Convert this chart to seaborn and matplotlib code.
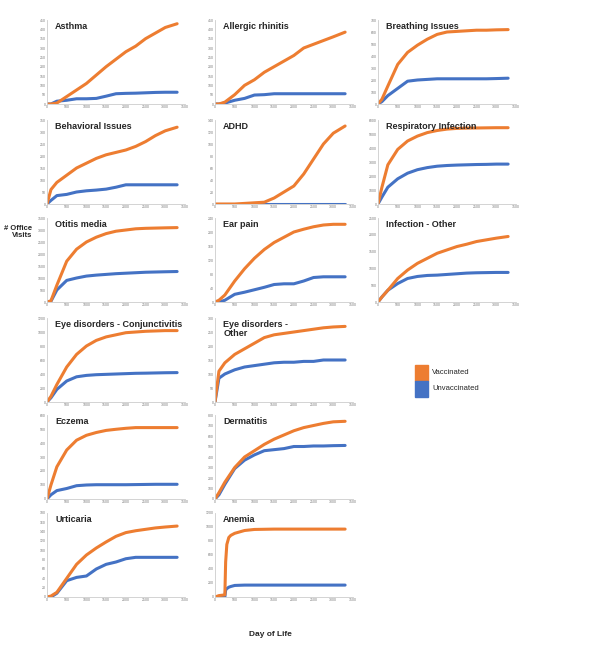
import matplotlib
matplotlib.use("Agg")
import matplotlib.pyplot as plt
import seaborn as sns

sns.set_style("white")
plt.rcParams['font.family'] = ['Liberation Sans', 'DejaVu Sans']

ORANGE = '#ED7D31'
BLUE = '#4472C4'

days = [0, 100, 250, 500, 750, 1000, 1250, 1500, 1750, 2000, 2250, 2500, 2750, 3000, 3300]
anemia_days = [0, 100, 250, 270, 300, 350, 400, 500, 750, 1000, 1500, 2000, 2500, 3000, 3300]

asthma_vax = [0, 0, 5, 40, 75, 110, 155, 200, 240, 280, 310, 350, 380, 410, 430]
asthma_unvax = [0, 0, 15, 20, 28, 28, 30, 42, 55, 57, 58, 60, 62, 63, 63]
rhinitis_vax = [0, 0, 10, 50, 100, 130, 170, 200, 230, 260, 300, 320, 340, 360, 385]
rhinitis_unvax = [0, 0, 5, 20, 30, 48, 50, 55, 55, 55, 55, 55, 55, 55, 55]
breathing_vax = [0, 40, 150, 330, 430, 490, 540, 580, 600, 605, 610, 615, 615, 618, 620]
breathing_unvax = [0, 20, 70, 130, 190, 200, 205, 210, 210, 210, 210, 210, 210, 212, 215]
behavior_vax = [0, 60, 90, 120, 150, 170, 190, 205, 215, 225, 240, 260, 285, 305, 320]
behavior_unvax = [0, 15, 35, 40, 50, 55, 58, 62, 70, 80, 80, 80, 80, 80, 80]
adhd_vax = [0, 0, 0, 0, 1, 2, 3, 10, 20, 30, 50, 75, 100, 118, 130]
adhd_unvax = [0] * 15
resp_vax = [0, 1200, 2800, 3900, 4500, 4850, 5100, 5250, 5350, 5400, 5420, 5430, 5440, 5450, 5450]
resp_unvax = [0, 500, 1200, 1800, 2200, 2450, 2600, 2700, 2750, 2780, 2800, 2820, 2830, 2850, 2850]
otitis_vax = [0, 50, 700, 1700, 2200, 2500, 2700, 2850, 2950, 3000, 3050, 3070, 3080, 3090, 3100]
otitis_unvax = [0, 30, 500, 900, 1000, 1080, 1120, 1150, 1180, 1200, 1220, 1240, 1250, 1260, 1270]
ear_vax = [0, 5, 20, 60, 95, 125, 150, 170, 185, 200, 208, 215, 220, 222, 222]
ear_unvax = [0, 0, 5, 22, 28, 35, 42, 50, 52, 52, 60, 70, 72, 72, 72]
infect_vax = [0, 150, 350, 700, 950, 1150, 1300, 1450, 1550, 1650, 1720, 1800, 1850, 1900, 1950]
infect_unvax = [0, 150, 350, 550, 700, 760, 790, 800, 820, 840, 860, 870, 875, 880, 880]
conj_vax = [0, 80, 250, 500, 680, 800, 880, 930, 960, 990, 1000, 1010, 1015, 1020, 1020]
conj_unvax = [0, 60, 180, 300, 360, 380, 390, 395, 400, 405, 410, 412, 415, 418, 420]
eyeother_vax = [0, 110, 140, 170, 190, 210, 230, 240, 245, 250, 255, 260, 265, 268, 270]
eyeother_unvax = [0, 85, 100, 115, 125, 130, 135, 140, 142, 142, 145, 145, 150, 150, 150]
eczema_vax = [0, 100, 230, 350, 420, 455, 475, 490, 498, 505, 510, 510, 510, 510, 510]
eczema_unvax = [0, 30, 60, 75, 95, 100, 102, 102, 102, 102, 103, 104, 105, 105, 105]
derm_vax = [0, 60, 160, 300, 400, 460, 520, 570, 610, 650, 680, 700, 720, 735, 740]
derm_unvax = [0, 40, 140, 290, 370, 420, 460, 470, 480, 500, 500, 505, 505, 508, 510]
urt_vax = [0, 2, 10, 40, 70, 90, 105, 118, 130, 138, 142, 145, 148, 150, 152]
urt_unvax = [0, 0, 8, 35, 42, 45, 60, 70, 75, 82, 85, 85, 85, 85, 85]
anemia_vax = [0, 20, 30, 500, 750, 850, 880, 910, 950, 965, 970, 970, 970, 970, 970]
anemia_unvax = [0, 0, 0, 100, 120, 140, 150, 165, 170, 170, 170, 170, 170, 170, 170]

# title, ymax, ystep, vaccinated, unvaccinated, x values, row, col
panels = [
    ("Asthma", 450, 50, asthma_vax, asthma_unvax, days, 0, 0),
    ("Allergic rhinitis", 450, 50, rhinitis_vax, rhinitis_unvax, days, 0, 1),
    ("Breathing Issues", 700, 100, breathing_vax, breathing_unvax, days, 0, 2),
    ("Behavioral Issues", 350, 50, behavior_vax, behavior_unvax, days, 1, 0),
    ("ADHD", 140, 20, adhd_vax, adhd_unvax, days, 1, 1),
    ("Respiratory Infection", 6000, 1000, resp_vax, resp_unvax, days, 1, 2),
    ("Otitis media", 3500, 500, otitis_vax, otitis_unvax, days, 2, 0),
    ("Ear pain", 240, 40, ear_vax, ear_unvax, days, 2, 1),
    ("Infection - Other", 2500, 500, infect_vax, infect_unvax, days, 2, 2),
    ("Eye disorders - Conjunctivitis", 1200, 200, conj_vax, conj_unvax, days, 3, 0),
    ("Eye disorders -\nOther", 300, 50, eyeother_vax, eyeother_unvax, days, 3, 1),
    ("Eczema", 600, 100, eczema_vax, eczema_unvax, days, 4, 0),
    ("Dermatitis", 800, 100, derm_vax, derm_unvax, days, 4, 1),
    ("Urticaria", 180, 20, urt_vax, urt_unvax, days, 5, 0),
    ("Anemia", 1200, 200, anemia_vax, anemia_unvax, anemia_days, 5, 1),
]

W, H = 589, 653
fig = plt.figure(figsize=(W / 100, H / 100), dpi=100)

col_left = [47, 215, 378]
row_top = [20, 120, 218, 318, 415, 513]
pw, ph = 138, 84

for title, ymax, ystep, vax, unvax, xs, r, c in panels:
    left = col_left[c] / W
    bottom = 1 - (row_top[r] + ph) / H
    ax = fig.add_axes([left, bottom, pw / W, ph / H])
    sns.lineplot(x=xs, y=unvax, ax=ax, color=BLUE, linewidth=2.2)
    sns.lineplot(x=xs, y=vax, ax=ax, color=ORANGE, linewidth=2.2)
    ax.set_xlim(0, 3500)
    ax.set_ylim(0, ymax)
    ax.set_xticks(range(0, 3501, 500))
    ax.set_yticks(range(0, ymax + 1, ystep))
    ax.tick_params(labelsize=2.5, length=0, pad=1, colors='#777777')
    for s in ['top', 'right']:
        ax.spines[s].set_visible(False)
    for s in ['left', 'bottom']:
        ax.spines[s].set_color('#cccccc')
        ax.spines[s].set_linewidth(0.6)
    ax.text(0.06, 0.98, title, transform=ax.transAxes, ha='left', va='top',
            fontsize=6.5, fontweight='bold', linespacing=1.1)

fig.text(32 / W, 1 - 232 / H, "# Office\nVisits", ha='right', va='center',
         fontsize=5.5, fontweight='bold', linespacing=1.1, multialignment='right')
fig.text(270 / W, 1 - 634 / H, "Day of Life", ha='center', va='center',
         fontsize=6, fontweight='bold')

# legend
for i, (lab, col) in enumerate([("Vaccinated", ORANGE), ("Unvaccinated", BLUE)]):
    y = 373 + i * 16
    fig.patches.append(plt.Rectangle((415 / W, 1 - (y + 8) / H), 13 / W, 16 / H,
                                     transform=fig.transFigure, color=col))
    fig.text(432 / W, 1 - y / H, lab, fontsize=5.5, va='center', ha='left')

fig.savefig("out.png", dpi=100)
